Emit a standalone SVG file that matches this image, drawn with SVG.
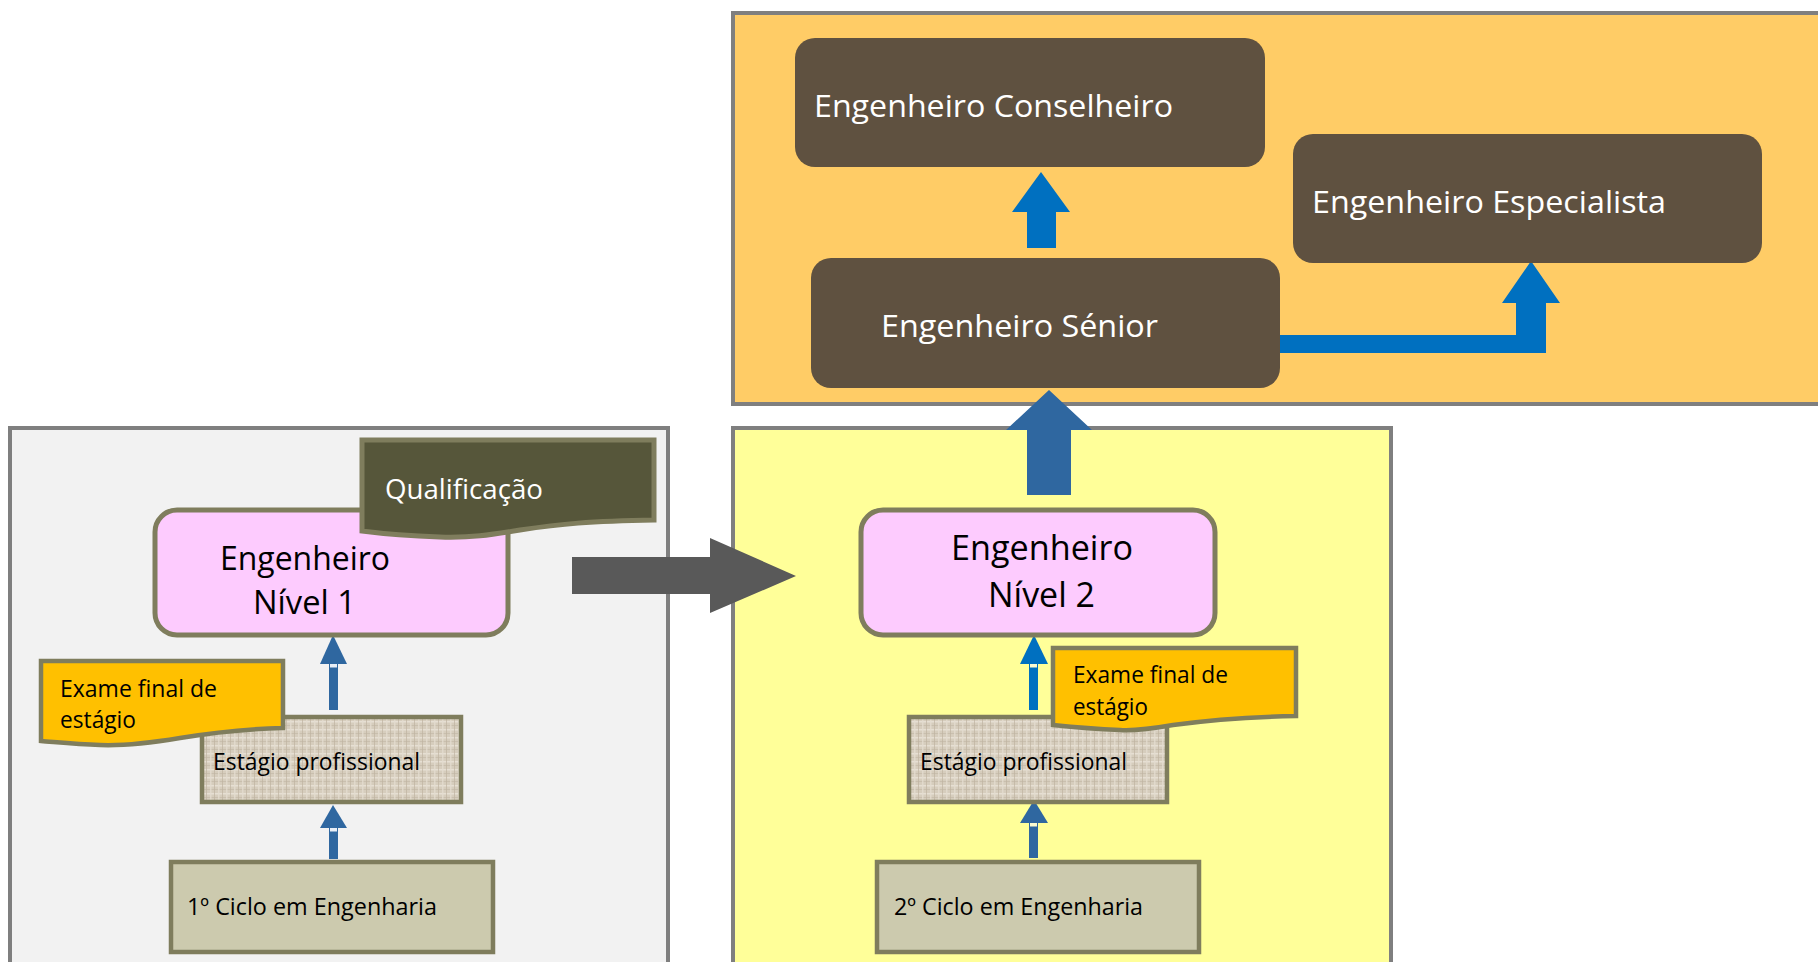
<svg xmlns="http://www.w3.org/2000/svg" width="1818" height="962" viewBox="0 0 1818 962">
<defs>
<pattern id="burlap" width="8" height="8" patternUnits="userSpaceOnUse">
<rect width="8" height="8" fill="#d6cdbd"/>
<rect x="0" y="1" width="8" height="1.5" fill="#e6dfd3"/>
<rect x="0" y="5" width="8" height="1" fill="#c9bfae"/>
<rect x="2" y="0" width="1.5" height="8" fill="#e3dccf" opacity="0.8"/>
<rect x="6" y="0" width="1" height="8" fill="#bfb4a2" opacity="0.7"/>
</pattern>
<style>
.panel{stroke:#7f7f7f;stroke-width:4}
.brown{fill:#5f5140}
.wt{fill:#ffffff;font-family:'Open Sans','Noto Sans',sans-serif}
.bk{fill:#000000;font-family:'Open Sans','Noto Sans',sans-serif}
.lvl{fill:#fdcbfe;stroke:#7f7d5d;stroke-width:5}
.olive{stroke:#7f7d5d;stroke-width:4.5}
.steel{fill:#2f67a0}
.bright{fill:#0070c0}
</style>
</defs>
<rect width="1818" height="962" fill="#ffffff"/>
<g id="panels">
<rect class="panel" x="10" y="428" width="658" height="560" fill="#f2f2f2"/>
<rect class="panel" x="733" y="428" width="658" height="560" fill="#ffff99"/>
<rect class="panel" x="733" y="13" width="1100" height="391" fill="#ffcc66"/>
</g>
<g id="connectors">
<polygon class="steel" points="1049,390 1092,430 1071,430 1071,495 1027,495 1027,430 1006,430"/>
<polygon fill="#595959" points="572,557 710,557 710,538 796,576 710,613 710,594 572,594"/>
<polygon class="bright" points="1041,172 1070,212 1056,212 1056,248 1027,248 1027,212 1012,212"/>
<polygon class="bright" points="1280,335 1516,335 1516,303 1502,303 1531,261 1560,303 1546,303 1546,353 1280,353"/>
<g>
<polygon class="steel" points="333,635 347,664 320,664"/>
<rect class="steel" x="329" y="664" width="9" height="46"/>
<rect x="330" y="664" width="7" height="3.5" fill="#e8eef6"/>
</g>
<g>
<polygon class="steel" points="333,805 347,828 320,828"/>
<rect class="steel" x="329" y="828" width="9" height="31"/>
<rect x="330" y="828" width="7" height="3.5" fill="#e8eef6"/>
</g>
<g>
<polygon class="bright" points="1034,635 1048,664 1020,664"/>
<rect class="bright" x="1029" y="664" width="9" height="46"/>
<rect x="1030" y="664" width="7" height="3.5" fill="#fbfbd0"/>
</g>
<g>
<polygon class="steel" points="1034,800 1048,823 1020,823"/>
<rect class="steel" x="1029" y="823" width="9" height="35"/>
<rect x="1030" y="823" width="7" height="3.5" fill="#fbfbd0"/>
</g>
</g>
<g id="conselheiro">
<rect class="brown" x="795" y="38" width="470" height="129" rx="20"/>
<text class="wt" x="814" y="117" font-size="31" textLength="359" lengthAdjust="spacingAndGlyphs">Engenheiro Conselheiro</text>
</g>
<g id="especialista">
<rect class="brown" x="1293" y="134" width="469" height="129" rx="20"/>
<text class="wt" x="1312" y="213" font-size="31" textLength="354" lengthAdjust="spacingAndGlyphs">Engenheiro Especialista</text>
</g>
<g id="senior">
<rect class="brown" x="811" y="258" width="469" height="130" rx="20"/>
<text class="wt" x="881" y="337" font-size="31" textLength="277" lengthAdjust="spacingAndGlyphs">Engenheiro Sénior</text>
</g>
<g id="nivel1">
<rect class="lvl" x="155" y="510" width="353" height="125" rx="22"/>
<text class="bk" x="220" y="570" font-size="32" textLength="170" lengthAdjust="spacingAndGlyphs">Engenheiro</text>
<text class="bk" x="253" y="614" font-size="32" textLength="103" lengthAdjust="spacingAndGlyphs">Nível 1</text>
</g>
<g id="qualificacao">
<path d="M362,440 H654 V520 C590,521 560,524 520,530 C490,535 470,538 440,537 C410,536 385,534 362,531 Z" fill="#56563a" stroke="#7f7d5d" stroke-width="5"/>
<text class="wt" x="385" y="499" font-size="28" textLength="158" lengthAdjust="spacingAndGlyphs">Qualificação</text>
</g>
<g id="estagio1">
<rect class="olive" x="202" y="717" width="259" height="85" fill="url(#burlap)"/>
<text class="bk" x="213" y="770" font-size="23" textLength="207" lengthAdjust="spacingAndGlyphs">Estágio profissional</text>
</g>
<g id="exame1">
<path d="M41,661 H283 V728 C240,729 210,733 180,738 C150,743 125,746 100,745 C75,744 55,742 41,741 Z" fill="#ffc000" stroke="#7f7d5d" stroke-width="4.5"/>
<text class="bk" x="60" y="697" font-size="23" textLength="157" lengthAdjust="spacingAndGlyphs">Exame final de</text>
<text class="bk" x="60" y="728" font-size="23" textLength="76" lengthAdjust="spacingAndGlyphs">estágio</text>
</g>
<g id="ciclo1">
<rect class="olive" x="171" y="862" width="322" height="90" fill="#cccaae"/>
<text class="bk" x="187" y="915" font-size="23" textLength="250" lengthAdjust="spacingAndGlyphs">1º Ciclo em Engenharia</text>
</g>
<g id="nivel2">
<rect class="lvl" x="861" y="510" width="354" height="125" rx="22"/>
<text class="bk" x="951" y="560" font-size="34" textLength="182" lengthAdjust="spacingAndGlyphs">Engenheiro</text>
<text class="bk" x="988" y="607" font-size="34" textLength="107" lengthAdjust="spacingAndGlyphs">Nível 2</text>
</g>
<g id="estagio2">
<rect class="olive" x="909" y="717" width="258" height="85" fill="url(#burlap)"/>
<text class="bk" x="920" y="770" font-size="23" textLength="207" lengthAdjust="spacingAndGlyphs">Estágio profissional</text>
</g>
<g id="exame2">
<path d="M1053,648 H1296 V716 C1250,717 1210,720 1173,725 C1150,729 1135,731 1120,730 C1095,729 1072,727 1053,725 Z" fill="#ffc000" stroke="#7f7d5d" stroke-width="4.5"/>
<text class="bk" x="1073" y="683" font-size="23" textLength="155" lengthAdjust="spacingAndGlyphs">Exame final de</text>
<text class="bk" x="1073" y="715" font-size="23" textLength="75" lengthAdjust="spacingAndGlyphs">estágio</text>
</g>
<g id="ciclo2">
<rect class="olive" x="877" y="862" width="322" height="90" fill="#cccaae"/>
<text class="bk" x="894" y="915" font-size="23" textLength="249" lengthAdjust="spacingAndGlyphs">2º Ciclo em Engenharia</text>
</g>
</svg>
